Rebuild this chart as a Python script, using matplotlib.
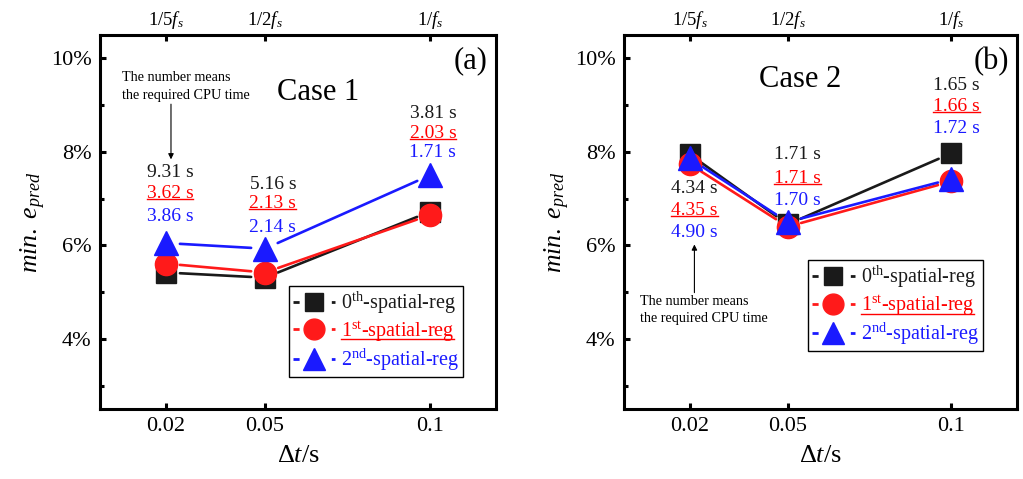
import matplotlib
matplotlib.use('Agg')
import matplotlib.pyplot as plt
from matplotlib.lines import Line2D

plt.rcParams['font.family'] = ['Liberation Serif', 'DejaVu Serif']
plt.rcParams['mathtext.fontset'] = 'custom'
plt.rcParams['mathtext.rm'] = 'Liberation Serif'
plt.rcParams['mathtext.it'] = 'Liberation Serif:italic'
plt.rcParams['mathtext.bf'] = 'Liberation Serif:bold'

# data
dt = [0.02, 0.05, 0.1]
top_labels = [r'1/5$f_s$', r'1/2$f_s$', r'1/$f_s$']
ytick_vals = [4, 6, 8, 10]
ytick_labels = ['4%', '6%', '8%', '10%']
reg_labels = [r'0$^{\mathrm{th}}$-spatial-reg', r'1$^{\mathrm{st}}$-spatial-reg',
              r'2$^{\mathrm{nd}}$-spatial-reg']

case1_reg0 = [5.42, 5.31, 6.72]
case1_reg1 = [5.61, 5.42, 6.65]
case1_reg2 = [6.05, 5.93, 7.50]
case2_reg0 = [7.95, 6.45, 7.97]
case2_reg1 = [7.74, 6.40, 7.37]
case2_reg2 = [7.86, 6.50, 7.42]

case1_cpu0 = ['9.31 s', '5.16 s', '3.81 s']
case1_cpu1 = ['3.62 s', '2.13 s', '2.03 s']
case1_cpu2 = ['3.86 s', '2.14 s', '1.71 s']
case2_cpu0 = ['4.34 s', '1.71 s', '1.65 s']
case2_cpu1 = ['4.35 s', '1.71 s', '1.66 s']
case2_cpu2 = ['4.90 s', '1.70 s', '1.72 s']

colors = ['#1a1a1a', '#ff1a1a', '#1a1aff']
markers = ['s', 'o', '^']
msizes = [14, 16, 17]

# label positions (data coords): x per point, y per (point, series)
case1_lab_x = [0.0212, 0.0524, 0.1009]
case1_lab_y = [[7.56, 7.11, 6.62], [7.31, 6.90, 6.39], [8.81, 8.40, 7.99]]
case2_lab_x = [0.0215, 0.0530, 0.1015]
case2_lab_y = [[7.22, 6.75, 6.28], [7.95, 7.43, 6.96], [9.43, 8.98, 8.51]]

fig = plt.figure(figsize=(10.23, 4.79), dpi=100)
ax1 = fig.add_axes([0.0978, 0.146, 0.387, 0.781])
ax2 = fig.add_axes([0.610, 0.146, 0.384, 0.781])

underlined = []


def draw_panel(ax, series, cpus, lab_x, lab_y, case_txt, case_pos, tag, leg_anchor):
    for i, vals in enumerate(series):
        for k in range(len(dt) - 1):
            ax.annotate('', xy=(dt[k + 1], vals[k + 1]), xytext=(dt[k], vals[k]),
                        arrowprops=dict(arrowstyle='-', color=colors[i], lw=1.9,
                                        shrinkA=10, shrinkB=10))
        ax.plot(dt, vals, linestyle='none', marker=markers[i], ms=msizes[i],
                color=colors[i], mec=colors[i], zorder=3 + i)
    for p in range(len(dt)):
        for i in range(3):
            t = ax.text(lab_x[p], lab_y[p][i], cpus[i][p], color=colors[i] if i != 1 else 'red',
                        fontsize=14, ha='center', va='center', zorder=6)
            if i == 1:
                underlined.append((t, 'red'))

    ax.set_xlim(0, 0.12)
    ax.set_ylim(2.5, 10.5)
    ax.set_xticks(dt, labels=['0.02', '0.05', '0.1'])
    ax.set_yticks(ytick_vals, labels=ytick_labels)
    ax.set_yticks([3, 5, 7, 9], minor=True)
    ax.tick_params(axis='both', which='major', direction='in', length=4, width=2.2,
                   labelsize=16, pad=6, right=False)
    ax.tick_params(axis='y', which='minor', direction='in', length=3, width=2.2)
    ax.tick_params(axis='x', which='minor', bottom=False)
    for s in ax.spines.values():
        s.set_linewidth(2.2)
    ax.set_xlabel(r'$\Delta t$/s', fontsize=19, labelpad=6)
    ax.set_ylabel(r'$min.\ e_{pred}$', fontsize=18.5, labelpad=2)

    sec = ax.secondary_xaxis('top')
    sec.set_xticks(dt, labels=top_labels)
    sec.tick_params(direction='in', length=4, width=2.2, labelsize=13.5, pad=3)

    ax.text(case_pos[0], case_pos[1], case_txt, transform=ax.transAxes, fontsize=22,
            ha='center', va='center')
    ax.text(0.935, 0.93, tag, transform=ax.transAxes, fontsize=22, ha='center', va='center')

    handles = [Line2D([], [], color=colors[i], lw=2, marker=markers[i], ms=msizes[i] - 1,
                      mec=colors[i], dashes=(2.2, 11.6)) for i in range(3)]
    leg = ax.legend(handles, reg_labels, loc='lower right', bbox_to_anchor=leg_anchor,
                    fontsize=14.5, frameon=True, fancybox=False, edgecolor='black',
                    framealpha=1, handlelength=2.1, handletextpad=0.3, labelspacing=0.15,
                    borderpad=0.2, borderaxespad=0)
    leg.get_frame().set_linewidth(1.0)
    for i, t in enumerate(leg.get_texts()):
        t.set_color(colors[i] if i != 1 else 'red')
    underlined.append((leg.get_texts()[1], 'red'))


draw_panel(ax1, [case1_reg0, case1_reg1, case1_reg2], [case1_cpu0, case1_cpu1, case1_cpu2],
           case1_lab_x, case1_lab_y, 'Case 1', (0.55, 0.845), '(a)', (0.917, 0.086))
draw_panel(ax2, [case2_reg0, case2_reg1, case2_reg2], [case2_cpu0, case2_cpu1, case2_cpu2],
           case2_lab_x, case2_lab_y, 'Case 2', (0.448, 0.88), '(b)', (0.913, 0.155))

# notes about cpu time
ax1.text(0.0067, 9.6, 'The number means', fontsize=10.2, ha='left', va='center')
ax1.text(0.0067, 9.21, 'the required CPU time', fontsize=10.2, ha='left', va='center')
ax1.annotate('', xy=(0.0215, 7.84), xytext=(0.0215, 9.02),
             arrowprops=dict(arrowstyle='-|>', color='black', lw=0.8, mutation_scale=8,
                             shrinkA=0, shrinkB=0))
ax2.text(0.0048, 4.80, 'The number means', fontsize=10.2, ha='left', va='center')
ax2.text(0.0048, 4.44, 'the required CPU time', fontsize=10.2, ha='left', va='center')
ax2.annotate('', xy=(0.0215, 6.02), xytext=(0.0215, 4.99),
             arrowprops=dict(arrowstyle='-|>', color='black', lw=0.8, mutation_scale=8,
                             shrinkA=0, shrinkB=0))

# underline the red texts
fig.canvas.draw()
r = fig.canvas.get_renderer()
inv = fig.transFigure.inverted()
for t, c in underlined:
    bb = t.get_window_extent(r)
    y = bb.y0 + 0.17 * bb.height
    (x0, y0), (x1, _) = inv.transform([(bb.x0, y), (bb.x1, y)])
    fig.add_artist(Line2D([x0, x1], [y0, y0], color=c, lw=1.0, zorder=10))

fig.savefig('out.png', dpi=100)
